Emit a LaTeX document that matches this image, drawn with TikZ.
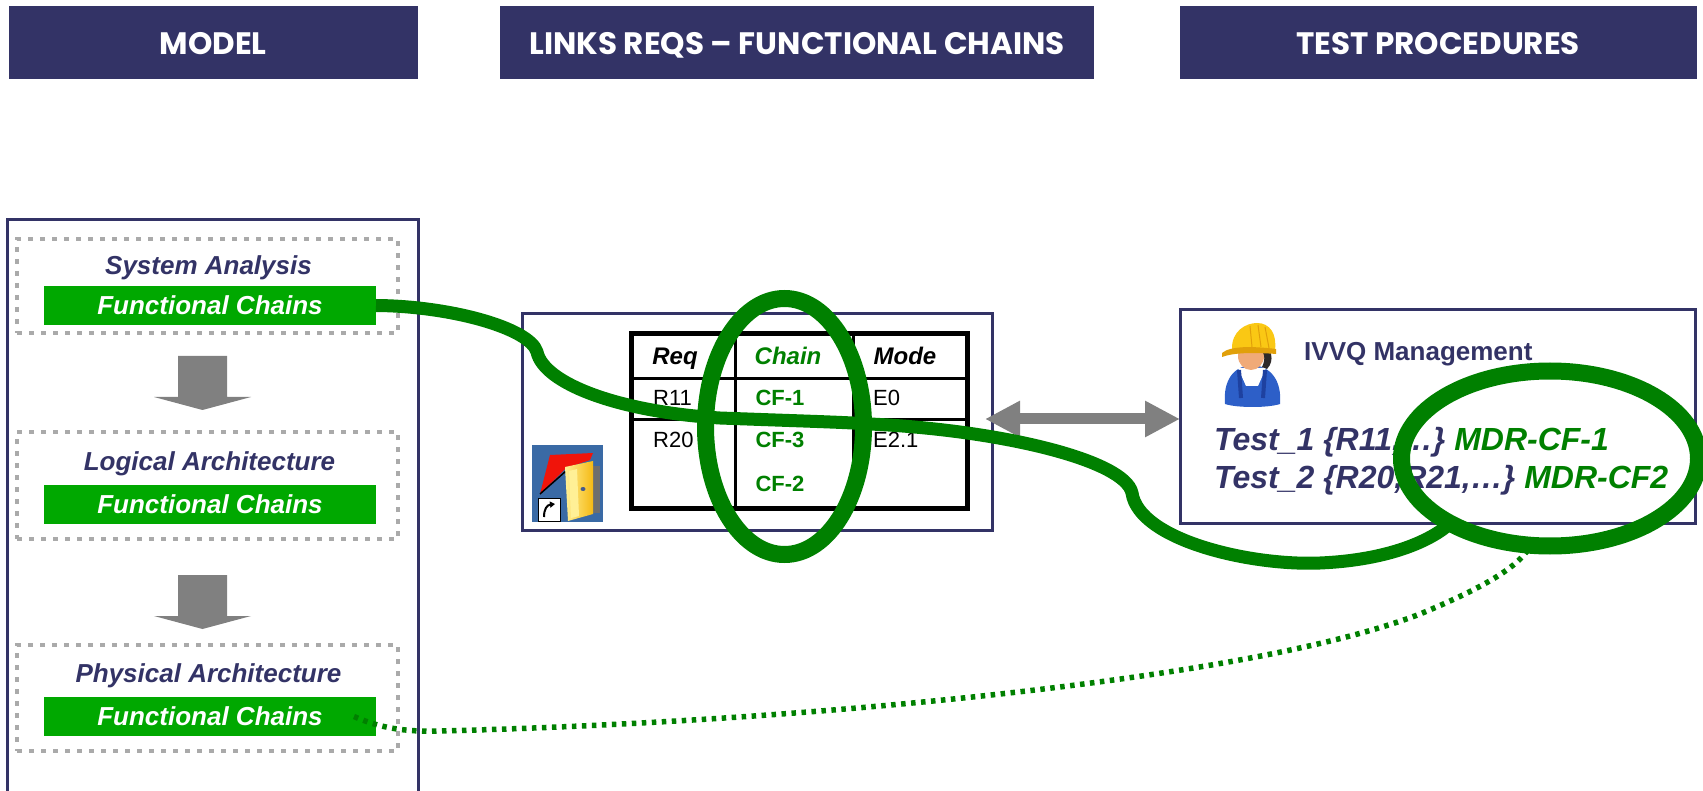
\documentclass[tikz,border=0pt]{standalone}
\usepackage{fontspec}
\setmainfont{Liberation Sans}
\newfontfamily\headfont{Poppins}
\usetikzlibrary{shapes.geometric,arrows.meta,calc}

\definecolor{navy}{RGB}{51,51,102}
\definecolor{bargreen}{RGB}{0,168,0}
\definecolor{darkgreen}{RGB}{0,128,0}
\definecolor{dotgray}{RGB}{170,170,170}
\definecolor{blockgray}{RGB}{128,128,128}
\definecolor{doorblue}{RGB}{58,106,165}
\definecolor{doorred}{RGB}{240,20,10}
\definecolor{dooryellow}{RGB}{245,185,20}
\definecolor{doorlight}{RGB}{255,240,150}
\definecolor{doorgray}{RGB}{110,110,110}
\definecolor{knob}{RGB}{70,90,140}
\definecolor{hatyellow}{RGB}{250,200,20}
\definecolor{hatshade}{RGB}{225,160,10}
\definecolor{skin}{RGB}{240,170,120}
\definecolor{hair}{RGB}{45,40,40}
\definecolor{suitblue}{RGB}{45,95,200}
\definecolor{suitdark}{RGB}{30,65,160}

\tikzset{
  header/.style={fill=navy, inner sep=0pt, outer sep=0pt, text=white,
    text height=23pt, text depth=0pt,
    font=\headfont\bfseries\fontsize{31}{36}\selectfont},
  panel/.style={draw=navy, line width=3pt, inner sep=0pt, outer sep=0pt},
  dotbox/.style={draw=dotgray, line width=4.5pt, dash pattern=on 5pt off 7pt,
    inner sep=0pt, outer sep=0pt},
  chainbar/.style={fill=bargreen, inner sep=0pt, outer sep=0pt, text=white,
    minimum width=332pt, minimum height=39pt,
    font=\bfseries\itshape\fontsize{26}{30}\selectfont},
  layertitle/.style={anchor=base, inner sep=0pt, text=navy,
    font=\bfseries\itshape\fontsize{26}{30}\selectfont},
  thead/.style={anchor=base, inner sep=0pt, font=\bfseries\itshape\fontsize{24}{28}\selectfont},
  tcell/.style={anchor=base west, inner sep=0pt, font=\fontsize{22}{26}\selectfont},
  tchain/.style={anchor=base, inner sep=0pt, text=darkgreen, font=\bfseries\fontsize{22}{26}\selectfont},
  testline/.style={anchor=base west, inner sep=0pt, text=navy,
    font=\bfseries\itshape\fontsize{32}{36}\selectfont},
  ring/.style={ellipse, draw=darkgreen, line width=17pt, inner sep=0pt, outer sep=0pt},
  chainline/.style={draw=darkgreen, line width=13pt},
  dotline/.style={draw=darkgreen, line width=5.5pt, dash pattern=on 4.5pt off 5.5pt},
  dblarrow/.style={draw=blockgray, line width=11pt,
    {Triangle[length=35pt,width=34pt]}-{Triangle[length=35pt,width=34pt]}},
}

\begin{document}
\begin{tikzpicture}[x=1pt,y=-1pt]
\useasboundingbox (0,0) rectangle (1703,791);

% column headers
\node[header, minimum width=409pt, minimum height=72.5pt] (hmodel) at (213.3,42.75) {MODEL};
\node[header, minimum width=594pt, minimum height=72.5pt] (hlinks) at (797,42.75) {LINKS REQS – FUNCTIONAL CHAINS};
\node[header, minimum width=517pt, minimum height=72.5pt] (htest) at (1438,42.75) {TEST PROCEDURES};

% model column frame (runs off the lower edge)
\draw[navy, line width=3pt] (7,800) -- (7,220) -- (418,220) -- (418,800);

% engineering layers
\node[dotbox, minimum width=381pt, minimum height=94pt] (sa) at (207.5,286) {};
\node[dotbox, minimum width=381pt, minimum height=107pt] (la) at (207.5,485.5) {};
\node[dotbox, minimum width=381pt, minimum height=106pt] (pa) at (207.5,698) {};

\node[layertitle] (tsa) at (208.5,275) {System Analysis};
\node[layertitle] (tla) at (209.5,471) {Logical Architecture};
\node[layertitle] (tpa) at (208.5,682) {Physical Architecture};

\node[chainbar] (fc1) at (210,305.5) {Functional Chains};
\node[chainbar] (fc2) at (210,504.5) {Functional Chains};
\node[chainbar] (fc3) at (210,716.5) {Functional Chains};

% refinement arrows between layers
\fill[blockgray] (178,356) -- (227,356) -- (227,397) -- (251,397) -- (202.5,410)
  -- (154,397) -- (178,397) -- cycle;
\fill[blockgray] (178,575) -- (227,575) -- (227,616) -- (251,616) -- (202.5,629)
  -- (154,616) -- (178,616) -- cycle;

% traceability panel
\node[panel, minimum width=470pt, minimum height=216pt] (mid) at (757,422) {};

% requirement / chain / mode table
\draw[black, line width=3pt] (631,379) -- (967,379) (631,420) -- (967,420)
  (735,334) -- (735,508) (853,334) -- (853,508);
\draw[black, line width=5pt] (631,334) rectangle (967,508);
\node[thead] (req) at (675,365) {Req};
\node[thead, text=darkgreen] (chain) at (788,365) {Chain};
\node[thead] (mode) at (905,365) {Mode};
\node[tcell] (r11) at (653,406) {R11};
\node[tchain] (cf1) at (780,406) {CF-1};
\node[tcell] (e0) at (873,406) {E0};
\node[tcell] (r20) at (653,447) {R20};
\node[tchain] (cf3) at (780,447) {CF-3};
\node[tcell] (e21) at (873,447) {E2.1};
\node[tchain] (cf2) at (780,491) {CF-2};

% application shortcut icon
\fill[doorblue] (532,445) rectangle (603,522);
\fill[doorred] (550,455) -- (593,453) -- (590,460) -- (566,468) -- (540,494) -- cycle;
\draw[black, line width=1.5pt] (540,494) -- (566,471);
\fill[doorgray] (592,466) rectangle (600,513);
\shade[left color=doorlight, right color=dooryellow] (565,467) -- (593,461) -- (593,514) -- (568,521) -- cycle;
\fill[doorlight] (569,471) -- (577,469) -- (579,516) -- (571,518) -- cycle;
\fill[knob] (583,489) ellipse [x radius=2.5pt, y radius=2pt];
\fill[white] (538,498) rectangle (560,521);
\draw[black, line width=1pt] (538,498) rectangle (560,521);
\draw[black, line width=2pt, -{Triangle[length=5pt,width=6pt]}] (544,517) .. controls (544,509) and (547,505) .. (555,504);

% test procedures panel
\node[panel, minimum width=515pt, minimum height=213pt] (test) at (1437.5,416.5) {};

% operator icon
\fill[suitblue] (1225,404) .. controls (1223,381) and (1233,366) .. (1252,365)
  .. controls (1271,366) and (1282,381) .. (1280,404) .. controls (1268,408) and (1237,408) .. cycle;
\fill[white] (1238,368) -- (1266,368) -- (1258,386) -- (1246,386) -- cycle;
\draw[suitdark, line width=4pt] (1239,370) -- (1241,398) (1265,370) -- (1263,398);
\fill[skin] (1251,356) ellipse [x radius=13pt, y radius=14pt];
\fill[hair] (1261,343) .. controls (1272,347) and (1275,361) .. (1267,369) -- (1262,367)
  .. controls (1266,359) and (1265,351) .. (1257,346) -- cycle;
\fill[hatyellow] (1232,350) .. controls (1231,331) and (1246,323) .. (1257,323)
  .. controls (1270,323) and (1277,334) .. (1275,350) -- cycle;
\fill[hatshade] (1222,353) .. controls (1230,346) and (1252,346) .. (1276,349) -- (1276,354)
  .. controls (1252,352) and (1232,353) .. (1222,357) -- cycle;
\draw[hatshade, line width=1pt] (1250,326) -- (1252,347) (1258,325) -- (1261,347) (1265,327) -- (1269,348);

\node[anchor=base west, inner sep=0pt, text=navy, font=\bfseries\fontsize{26}{30}\selectfont]
  (ivvq) at (1304,361) {IVVQ Management};
\node[testline] (test1) at (1214,450) {Test\_1 \{R11,…\} \textcolor{darkgreen}{MDR-CF-1}};
\node[testline] (test2) at (1214,488) {Test\_2 \{R20,R21,…\} \textcolor{darkgreen}{MDR-CF2}};

% exchange between traceability data and test procedures
\draw[dblarrow] ([xshift=-7pt,yshift=3pt]mid.east) -- ([yshift=3pt]mid.east -| test.west);

% highlighted chains
\draw[dotline] ([xshift=-22pt]fc3.east) .. controls (380,728) and (405,732) .. (440,731)
  .. controls (800,722) and (1250,680) .. (1420,614)
  .. controls (1490,585) and (1520,565) .. (1531,545);

\node[ring, minimum width=158pt, minimum height=256pt] (ring1) at (784.5,426.5) {};
\node[ring, minimum width=297pt, minimum height=175pt] (ring2) at (1550,458.5) {};

\draw[chainline] (fc1.east) .. controls (450,306) and (530,328) .. (537,352)
  .. controls (544,384) and (620,412) .. (720,418)
  .. controls (800,421) and (840,422) .. (870,424)
  .. controls (1000,430) and (1125,460) .. (1132,493)
  .. controls (1139,540) and (1250,566) .. (1320,563)
  .. controls (1390,560) and (1432,540) .. (ring2.213);
\end{tikzpicture}
\end{document}
